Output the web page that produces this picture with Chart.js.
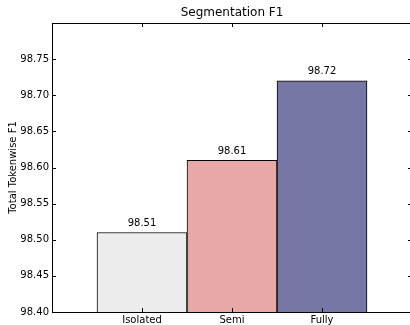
<!DOCTYPE html>
<html>
<head>
<meta charset="utf-8">
<script src="https://cdn.jsdelivr.net/npm/chart.js@4/dist/chart.umd.min.js"></script>
<style>
    body { margin: 0; overflow: hidden; background: #fff; }
    #chart { display: block; }
</style>
</head>
<body>
<canvas id="chart" width="414" height="325"></canvas>
<script>
// dati del grafico
let categorie = ["Isolated", "Semi", "Fully"];
let valori = [98.51, 98.61, 98.72];
let colori = ["#ececec", "#e7a8a8", "#7777a7"];
let yTickLabels = ["98.40", "98.45", "98.50", "98.55", "98.60", "98.65", "98.70", "98.75"];
let yMin = 98.4;
let yMax = 98.8;

let font = "DejaVu Sans";

// titolo, etichette sopra le barre, cornice e tacche verso l'interno
let decorazioni = {
    id: "decorazioni",
    afterDraw(chart) {
        let ctx = chart.ctx;
        let area = chart.chartArea;
        let x = chart.scales.x;
        let y = chart.scales.y;
        ctx.save();

        // cornice
        ctx.strokeStyle = "#000";
        ctx.lineWidth = 1;
        ctx.strokeRect(Math.round(area.left) + 0.5, Math.round(area.top) + 0.5,
            area.right - area.left, area.bottom - area.top);

        // tacche asse y (sinistra e destra)
        ctx.beginPath();
        y.ticks.forEach((t) => {
            let py = Math.round(y.getPixelForValue(t.value)) + 0.5;
            ctx.moveTo(area.left, py);
            ctx.lineTo(area.left + 4, py);
            ctx.moveTo(area.right - 4, py);
            ctx.lineTo(area.right, py);
        });
        // tacche asse x (sotto e sopra)
        categorie.forEach((c, i) => {
            let px = Math.round(x.getPixelForValue(i)) + 0.5;
            ctx.moveTo(px, area.bottom);
            ctx.lineTo(px, area.bottom - 4);
            ctx.moveTo(px, area.top);
            ctx.lineTo(px, area.top + 4);
        });
        ctx.stroke();

        // valori sopra le barre
        ctx.fillStyle = "#000";
        ctx.font = "10px '" + font + "'";
        ctx.textAlign = "center";
        ctx.textBaseline = "alphabetic";
        chart.getDatasetMeta(0).data.forEach((bar, i) => {
            ctx.fillText(valori[i].toFixed(2), bar.x, bar.y - 6.5);
        });

        // titolo
        ctx.font = "12px '" + font + "'";
        ctx.textBaseline = "middle";
        ctx.fillText("Segmentation F1", (area.left + area.right) / 2, 12.5);

        // etichetta asse y
        ctx.font = "10px '" + font + "'";
        ctx.translate(13.5, (area.top + area.bottom) / 2);
        ctx.rotate(-Math.PI / 2);
        ctx.fillText("Total Tokenwise F1", 0, 0);

        ctx.restore();
    },
};

let ctx = document.getElementById("chart").getContext("2d");
let chart = new Chart(ctx, {
    type: "bar",
    data: {
        datasets: [
            {
                data: valori.map((v, i) => ({ x: i, y: v })),
                backgroundColor: colori,
                borderColor: "#000",
                borderWidth: 1,
                barPercentage: 1,
                categoryPercentage: 1,
            },
        ],
    },
    options: {
        responsive: false,
        animation: false,
        layout: { padding: { top: 23, left: 0, right: 2, bottom: 0 } },
        plugins: {
            legend: { display: false },
            tooltip: { enabled: false },
        },
        scales: {
            x: {
                type: "linear",
                min: -1,
                max: 3,
                offset: false,
                grid: { display: false, drawTicks: false, tickLength: 0 },
                border: { display: false },
                ticks: {
                    stepSize: 1,
                    autoSkip: false,
                    maxRotation: 0,
                    padding: 2,
                    color: "#000",
                    font: { family: font, size: 10 },
                    callback: (v) => categorie[v] || "",
                },
                afterFit: (scale) => { scale.height = 13; },
            },
            y: {
                min: yMin,
                max: yMax,
                grid: { display: false, drawTicks: false, tickLength: 0 },
                border: { display: false },
                ticks: {
                    stepSize: 0.05,
                    padding: 3,
                    color: "#000",
                    font: { family: font, size: 10 },
                    callback: (v, index) => yTickLabels[index] || "",
                },
                afterFit: (scale) => { scale.width = 52; },
            },
        },
    },
    plugins: [decorazioni],
});
</script>
</body>
</html>
